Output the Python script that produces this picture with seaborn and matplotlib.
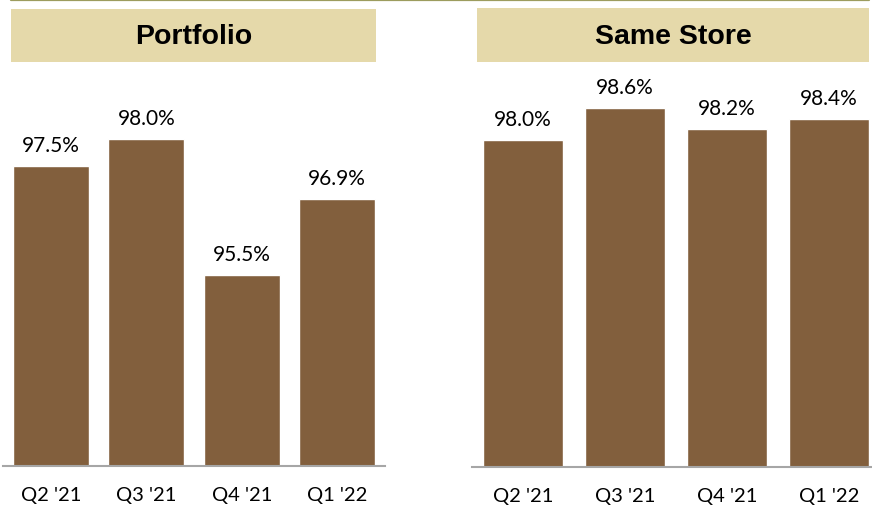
import matplotlib
matplotlib.use("Agg")
import matplotlib.pyplot as plt
import seaborn as sns
import pandas as pd
from matplotlib.patches import Rectangle
from matplotlib.lines import Line2D

quarters = ["Q2 '21", "Q3 '21", "Q4 '21", "Q1 '22"]
portfolio = [97.5, 98.0, 95.5, 96.9]
same_store = [98.0, 98.6, 98.2, 98.4]
titles = ["Portfolio", "Same Store"]

BAR = "#825F3D"
HEAD = "#E5D9AA"
TOPLINE = "#9C9C5E"
BASE = "#A6A6A6"

sns.set_theme(style="white")
plt.rcParams['font.family'] = ['Lato', 'DejaVu Sans']

W, H = 872, 506
fig = plt.figure(figsize=(W / 100, H / 100), dpi=100)

def px_axes(x0, y0_top, x1, y1_top):
    return fig.add_axes([x0 / W, 1 - y1_top / H, (x1 - x0) / W, (y1_top - y0_top) / H])

# top olive line
fig.add_artist(Line2D([11 / W, 869 / W], [1 - 1 / H, 1 - 1 / H], color=TOPLINE, lw=1.6,
                      transform=fig.transFigure))

# header boxes
for (x0, x1, y0, y1), t in zip([(11, 376, 10, 63), (477, 869, 9, 63)], titles):
    fig.add_artist(Rectangle((x0 / W, 1 - y1 / H), (x1 - x0) / W, (y1 - y0) / H,
                             transform=fig.transFigure, facecolor=HEAD, edgecolor="none"))
    fig.text((x0 + x1) / 2 / W, 1 - (y0 + y1 + 2) / 2 / H, t, ha="center", va="center",
             fontsize=20.5, fontweight="bold", family=["Liberation Sans", "DejaVu Sans"], color="black")

specs = [
    (portfolio, (3, 70, 385, 467), (92.0, 92.0 + 397 / 54.5), 0.8),
    (same_store, (472, 70, 880, 468), (91.8, 91.8 + 398 / 52.8), 0.78),
]

for vals, (x0, yt, x1, yb), ylim, width in specs:
    ax = px_axes(x0, yt, x1, yb)
    df = pd.DataFrame({"q": quarters, "v": vals})
    sns.barplot(data=df, x="q", y="v", color=BAR, saturation=1, width=width, ax=ax)
    ax.set_xlim(-0.5, 3.5)
    ax.set_ylim(*ylim)
    ax.set_xlabel("")
    ax.set_ylabel("")
    ax.set_yticks([])
    for s in ["top", "right", "left"]:
        ax.spines[s].set_visible(False)
    ax.spines["bottom"].set_color(BASE)
    ax.spines["bottom"].set_linewidth(1.5)
    ax.tick_params(axis="x", length=0, pad=14.5, labelsize=14.5, labelcolor="black")
    ax.patch.set_alpha(0)
    for i, v in enumerate(vals):
        ax.annotate(f"{v:.1f}%", (i, v), xytext=(0, 10.8), textcoords="offset points",
                    ha="center", va="baseline", fontsize=15, color="black")

fig.savefig("out.png", dpi=100)
